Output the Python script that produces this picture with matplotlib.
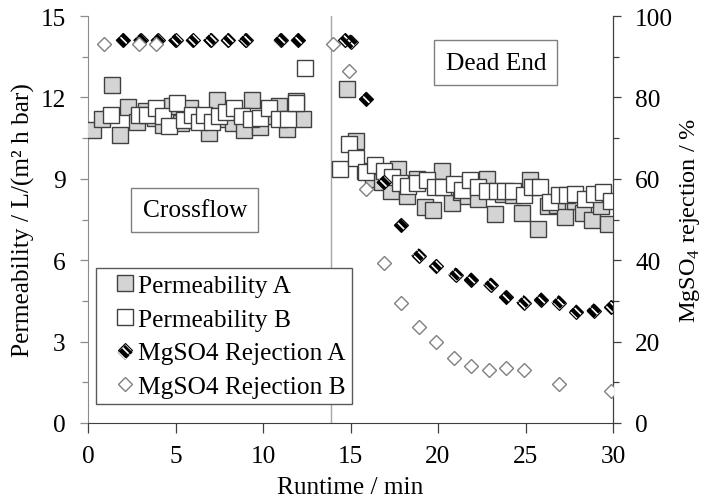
import matplotlib
matplotlib.use("Agg")
import matplotlib.pyplot as plt
from matplotlib.ticker import MultipleLocator
from matplotlib.lines import Line2D

plt.rcParams["font.family"] = ["Liberation Serif", "DejaVu Serif"]
plt.rcParams["mathtext.fontset"] = "custom"
plt.rcParams["mathtext.rm"] = "Liberation Serif"
plt.rcParams["hatch.color"] = "white"
plt.rcParams["hatch.linewidth"] = 1.2

# --- data ---
t_perm_a = [0.3, 0.8, 1.35, 1.8, 2.3, 2.8, 3.3, 3.8, 4.3, 4.8, 5.3, 5.8, 6.3, 6.9,
            7.35, 7.8, 8.3, 8.9, 9.35, 9.8, 10.4, 10.9, 11.35, 11.9, 12.3,
            14.8, 15.3, 15.8, 16.3, 16.8, 17.3, 17.7, 18.25, 18.8, 19.25, 19.7,
            20.25, 20.8, 21.3, 21.7, 22.3, 22.8, 23.25, 23.7, 24.3, 24.8, 25.25,
            25.7, 26.3, 26.8, 27.25, 27.8, 28.3, 28.8, 29.3, 29.7]
perm_a = [10.8, 11.2, 12.45, 10.6, 11.65, 11.1, 11.5, 11.25, 11.0, 11.7, 11.05, 11.6,
          11.3, 10.7, 11.9, 11.2, 11.05, 10.8, 11.9, 10.9, 11.3, 11.7, 10.85, 11.85, 11.2,
          12.3, 10.4, 9.3, 9.0, 8.9, 8.55, 9.35, 8.35, 9.0, 7.95, 7.85,
          9.3, 8.1, 8.5, 8.35, 8.25, 9.0, 7.7, 8.45, 8.4, 7.75, 8.95,
          7.15, 8.0, 8.05, 7.6, 8.2, 7.75, 7.5, 8.0, 7.35]

t_perm_b = [1.3, 2.9, 3.35, 3.9, 4.3, 4.6, 5.1, 5.5, 5.95, 6.35, 6.6, 7.1, 7.5, 7.9,
            8.35, 8.8, 9.3, 9.8, 10.35, 10.9, 11.4, 11.9, 12.4,
            14.4, 14.9, 15.3, 15.9, 16.4, 16.9, 17.35, 17.8, 18.3, 18.8, 19.35,
            19.8, 20.3, 20.9, 21.35, 21.8, 22.3, 22.8, 23.35, 23.8, 24.3, 24.9,
            25.35, 25.8, 26.4, 26.9, 27.35, 27.8, 28.4, 28.9, 29.4, 29.9]
perm_b = [11.35, 11.35, 11.35, 11.6, 11.3, 10.95, 11.8, 11.15, 11.35, 11.1, 11.35,
          11.1, 11.3, 11.45, 11.6, 11.3, 11.2, 11.25, 11.6, 11.2, 11.2, 11.8, 13.1,
          9.35, 10.3, 9.75, 9.25, 9.5, 9.3, 9.05, 8.85, 8.75, 8.85, 8.95,
          8.7, 8.7, 8.8, 8.6, 8.95, 8.7, 8.55, 8.55, 8.55, 8.55, 8.4,
          8.7, 8.7, 8.15, 8.4, 8.4, 8.45, 8.25, 8.45, 8.5, 8.2]

t_rej_a = [2, 3, 4, 5, 6, 7, 8, 9, 11, 12,
           14.7, 15.0, 15.9, 16.9, 17.9, 18.9, 19.9, 21.0, 21.9, 23.0, 23.9,
           24.9, 25.9, 26.9, 27.9, 28.9, 29.9]
rej_a = [94, 94, 94, 94, 94, 94, 94, 94, 94, 94,
         94, 93.7, 79.6, 59.1, 48.6, 41.1, 38.5, 36.4, 35.2, 33.9, 30.9,
         29.6, 30.3, 29.6, 27.3, 27.6, 28.4]

t_rej_b = [0.9, 2.9, 3.9, 14.0, 14.9, 15.9, 16.9, 17.9, 18.9, 19.9, 20.9, 21.9,
           22.9, 23.9, 24.9, 26.9, 29.9]
rej_b = [93, 93, 93, 93.1, 86.6, 57.5, 39.3, 29.6, 23.5, 19.8, 16.0, 13.9,
         12.9, 13.4, 13.1, 9.6, 7.8]

switch_time = 13.9
FS = 18.3

fig = plt.figure(figsize=(7.07, 5.02), dpi=100)
ax = fig.add_axes([88 / 707, 78 / 502, 525 / 707, 407 / 502])
ax2 = ax.twinx()

ax.axvline(switch_time, color="#a6a6a6", lw=1.0, zorder=1)

sq = dict(ls="none", marker="s", ms=12, mew=1.0, mec="#404040")
ax.plot(t_perm_a, perm_a, mfc="#d4d4d4", zorder=3, **sq)
ax.plot(t_perm_b, perm_b, mfc="white", zorder=4, **sq)

# hatched black diamonds: black fill with white stripes, then a dark outline
hatched = ax2.scatter(t_rej_a, rej_a, marker="D", s=58, facecolor="black",
                      edgecolor="white", linewidths=0, hatch="\\\\\\\\", zorder=3)
outline = ax2.plot(t_rej_a, rej_a, ls="none", marker="D", ms=7.6, mfc="none",
                   mec="black", mew=0.8, zorder=3)[0]
ax2.plot(t_rej_b, rej_b, ls="none", marker="D", ms=7.2, mfc="white",
         mec="#808080", mew=1.0, zorder=4)

ax.set_xlim(0, 30)
ax.set_ylim(0, 15)
ax2.set_ylim(0, 100)
ax.xaxis.set_major_locator(MultipleLocator(5))
ax.yaxis.set_major_locator(MultipleLocator(3))
ax.yaxis.set_minor_locator(MultipleLocator(1.5))
ax2.yaxis.set_major_locator(MultipleLocator(20))
ax2.yaxis.set_minor_locator(MultipleLocator(10))

for a in (ax, ax2):
    a.spines["top"].set_visible(False)
ax.spines["left"].set_color("#8c8c8c")
ax.spines["bottom"].set_color("#404040")
ax2.spines["right"].set_color("#404040")
ax2.spines["left"].set_visible(False)
ax2.spines["bottom"].set_visible(False)

ax.tick_params(axis="x", direction="out", length=7, width=0.9, color="#404040",
               labelsize=FS, pad=9)
ax.tick_params(axis="y", which="major", direction="out", length=6, width=0.9,
               color="#8c8c8c", labelsize=FS, pad=10)
ax.tick_params(axis="y", which="minor", direction="out", length=4, width=0.9,
               color="#8c8c8c")
ax2.tick_params(axis="y", which="major", direction="out", length=6, width=0.9,
                color="#404040", labelsize=FS, pad=10)
ax2.tick_params(axis="y", which="minor", direction="out", length=4, width=0.9,
                color="#404040")

ax.set_xlabel("Runtime / min", fontsize=FS, labelpad=6)
ax.set_ylabel("Permeability / L/(m² h bar)", fontsize=FS, labelpad=4)
ax2.set_ylabel(r"MgSO$_\mathregular{4}$ rejection / %", fontsize=17.5, labelpad=3)

box = dict(boxstyle="square,pad=0.45", fc="white", ec="#7f7f7f", lw=1.0)
ax.text(6.1, 7.85, "Crossflow", fontsize=FS, ha="center", va="center",
        bbox=box, zorder=6)
ax.text(23.3, 13.28, "Dead End", fontsize=FS, ha="center", va="center",
        bbox=box, zorder=6)

handles = [
    Line2D([], [], mfc="#d4d4d4", **dict(sq, ms=11)),
    Line2D([], [], mfc="white", **dict(sq, ms=11)),
    (hatched, outline),
    Line2D([], [], ls="none", marker="D", ms=7.2, mfc="white", mec="#808080", mew=1.0),
]
labels = ["Permeability A", "Permeability B", "MgSO4 Rejection A", "MgSO4 Rejection B"]
leg = ax2.legend(handles, labels, loc="lower left", bbox_to_anchor=(0.015, 0.047),
                 borderaxespad=0, fontsize=FS, frameon=True, fancybox=False,
                 edgecolor="#595959", framealpha=1, handlelength=1.8,
                 handletextpad=-0.4, labelspacing=0.42, borderpad=0.25,
                 numpoints=1, scatterpoints=1)
leg.get_frame().set_linewidth(1.0)
leg.set_zorder(10)

fig.savefig("out.png", dpi=100)
